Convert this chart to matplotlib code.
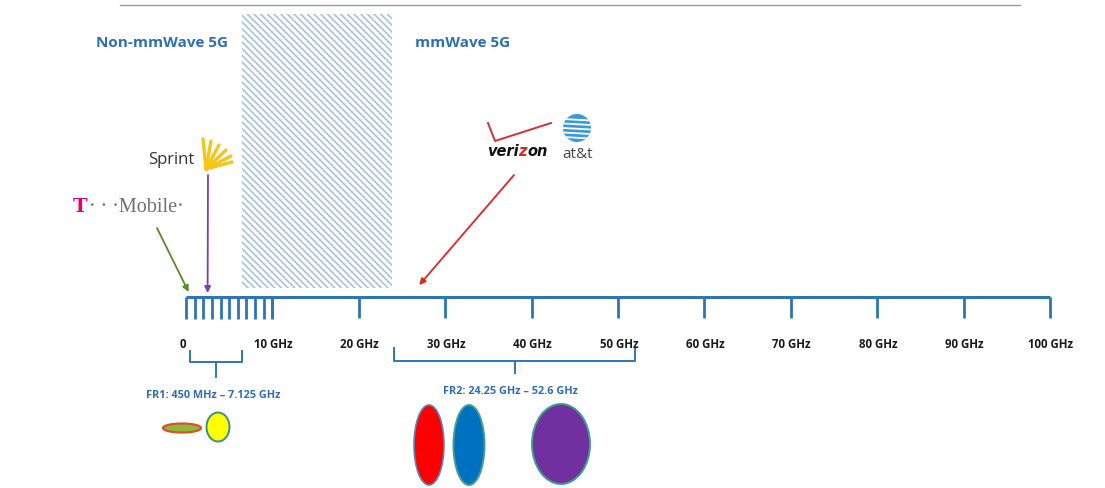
import matplotlib
matplotlib.use("Agg")
import matplotlib.pyplot as plt
from matplotlib.patches import Rectangle, Ellipse
from matplotlib.offsetbox import TextArea, HPacker, AnnotationBbox

# ---------------- data ----------------
major_ticks = [0, 10, 20, 30, 40, 50, 60, 70, 80, 90, 100]
major_labels = ["0", "10 GHz", "20 GHz", "30 GHz", "40 GHz", "50 GHz",
                "60 GHz", "70 GHz", "80 GHz", "90 GHz", "100 GHz"]
minor_ticks = [0, 1, 2, 3, 4, 5, 6, 7, 8, 9, 10]
hatch_band = [6.5, 23.9]            # GHz band drawn hatched
fr1_range = [0.45, 7.125]           # GHz
fr2_range = [24.25, 52.6]           # GHz
fr1_label = "FR1: 450 MHz \u2013 7.125 GHz"
fr2_label = "FR2: 24.25 GHz \u2013 52.6 GHz"
region_labels = ["Non-mmWave 5G", "mmWave 5G"]
tmobile_target = 0.3                # GHz pointed by T-Mobile arrow
sprint_target = 2.5                 # GHz pointed by Sprint arrow
verizon_target = 27.0               # GHz pointed by Verizon/AT&T arrow

# ---------------- layout ----------------
W, H = 1105, 488
X0, SCALE = 186.0, 8.64           # pixel of 0 GHz, pixels per GHz

def g(px):
    """pixel x -> GHz coordinate"""
    return (px - X0) / SCALE

plt.rcParams["hatch.linewidth"] = 1.2

fig = plt.figure(figsize=(W / 100, H / 100), dpi=100)
ax = fig.add_axes([0, 0, 1, 1])
ax.set_xlim(g(0), g(W))
ax.set_ylim(H, 0)
ax.axis("off")

BLUE = "#2E75B6"
TXT_BLUE = "#2F6DB5"
FONT = "Open Sans"

# top rule
ax.plot([g(120), g(1020)], [5, 5], color="#9a9a9a", lw=1.0)

# hatched band
rect = Rectangle((hatch_band[0], 14), hatch_band[1] - hatch_band[0], 274,
                 facecolor="white", edgecolor="#A8C3DB", hatch="\\" * 5, lw=0)
ax.add_patch(rect)

# region labels
ax.text(g(96), 43, region_labels[0], color=TXT_BLUE, fontsize=11,
        fontweight="bold", family=FONT, va="center", ha="left")
ax.text(g(415), 43, region_labels[1], color=TXT_BLUE, fontsize=11,
        fontweight="bold", family=FONT, va="center", ha="left")

# axis line and ticks
AY = 297
ax.plot([major_ticks[0], major_ticks[-1]], [AY, AY], color=BLUE, lw=2.2,
        solid_capstyle="butt")
for t in minor_ticks:
    ax.plot([t, t], [AY, 319], color=BLUE, lw=2.0, solid_capstyle="butt")
for t in major_ticks[1:]:
    ax.plot([t, t], [AY, 318], color=BLUE, lw=2.0, solid_capstyle="butt")
for t, lab in zip(major_ticks, major_labels):
    xo = -0.4 if t == 0 else 0.1
    ax.text(t + xo, 344, lab, ha="center", va="center", fontsize=8.3,
            fontweight="bold", family=FONT, color="#1a1a1a")

# braces
def brace(x1, x2, ytop, ymid, ybot):
    xm = (x1 + x2) / 2
    ax.plot([x1, x1, x2, x2], [ytop, ymid, ymid, ytop], color=BLUE, lw=1.4)
    ax.plot([xm, xm], [ymid, ybot], color=BLUE, lw=1.4)

brace(fr1_range[0], fr1_range[1] - 0.7, 351, 362, 377)
brace(fr2_range[0] - 0.2, fr2_range[1] - 0.6, 348, 361, 373)
ax.text(g(146), 395, fr1_label, ha="left", va="center", fontsize=7.8,
        fontweight="bold", family=FONT, color=TXT_BLUE)
ax.text(g(443), 391, fr2_label, ha="left", va="center", fontsize=7.8,
        fontweight="bold", family=FONT, color=TXT_BLUE)

# ellipses
def ell(cx, cy, w, h, fc, ec, lw=1.5):
    ax.add_patch(Ellipse((g(cx), cy), w / SCALE, h, facecolor=fc,
                         edgecolor=ec, lw=lw))

ell(182, 428, 38, 9, "#8DB83A", "#D9522B", 1.6)
ell(218, 427, 23, 29, "#FFFF00", "#3E8E86", 1.4)
ell(429, 445, 30, 80, "#FF0000", "#5A86B5", 1.2)
ell(469, 445, 31, 80, "#0070C0", "#3FA08A", 1.4)
ell(561, 444, 58, 80, "#7030A0", "#3FA08A", 1.4)

# arrows
def arrow(x0px, y0, xt, yt, color):
    ax.annotate("", xy=(xt, yt), xytext=(g(x0px), y0),
                arrowprops=dict(arrowstyle="-|>", color=color, lw=1.3,
                                mutation_scale=9, shrinkA=0, shrinkB=0))

arrow(157, 228, tmobile_target, 292, "#5B8A2A")
arrow(208, 175, sprint_target, 293, "#7B3FB5")
arrow(514, 175, verizon_target, 285, "#E8231F")

# ---------- logos (approximated) ----------
# T-Mobile
tm = HPacker(children=[
    TextArea("T", textprops=dict(color="#E20074", fontsize=14, family="DejaVu Serif",
                                 fontweight="bold")),
    TextArea("\u00b7 \u00b7 \u00b7Mobile\u00b7", textprops=dict(color="#707070", fontsize=14.5,
                                                              family="Liberation Serif")),
], pad=0, sep=1, align="baseline")
ax.add_artist(AnnotationBbox(tm, (g(73), 208), box_alignment=(0, 0.5),
                             frameon=False, pad=0))

# Sprint
ax.text(g(148), 160, "Sprint", ha="left", va="center", fontsize=12,
        family=FONT, color="#333333")
for (ex, ey) in [(203, 139), (211, 141), (219, 145), (226, 150), (231, 156), (232, 162)]:
    ax.plot([g(206), g(ex)], [169, ey], color="#F5C518", lw=2.4,
            solid_capstyle="round")

# Verizon
ax.plot([g(488), g(495), g(551)], [123, 141, 123], color="#D3303A", lw=1.4)
vz = HPacker(children=[
    TextArea("veri", textprops=dict(color="#111111", fontsize=10.5, family="DejaVu Sans",
                                    fontweight="bold", style="italic")),
    TextArea("z", textprops=dict(color="#E2231A", fontsize=10.5, family="DejaVu Sans",
                                 fontweight="bold", style="italic")),
    TextArea("on", textprops=dict(color="#111111", fontsize=10.5, family="DejaVu Sans",
                                  fontweight="bold", style="italic")),
], pad=0, sep=0, align="baseline")
ax.add_artist(AnnotationBbox(vz, (g(487), 151), box_alignment=(0, 0.5),
                             frameon=False, pad=0))

# AT&T globe + text
gx, gy, gr = g(577), 128, 14
ax.add_patch(Ellipse((gx, gy), 2 * gr / SCALE, 2 * gr, facecolor="#3A9AD9",
                     edgecolor="none"))
clip = Ellipse((gx, gy), 2 * gr / SCALE, 2 * gr, transform=ax.transData)
for dy in [-9, -4.5, 0, 4.5, 9]:
    ln, = ax.plot([gx - gr / SCALE, gx + gr / SCALE], [gy + dy, gy + dy + 1.5],
                  color="white", lw=1.3)
    ln.set_clip_path(clip)
ax.text(g(562), 155, "at&t", ha="left", va="center", fontsize=11,
        family=FONT, color="#444444")

fig.savefig("out.png", dpi=100, facecolor="white")
